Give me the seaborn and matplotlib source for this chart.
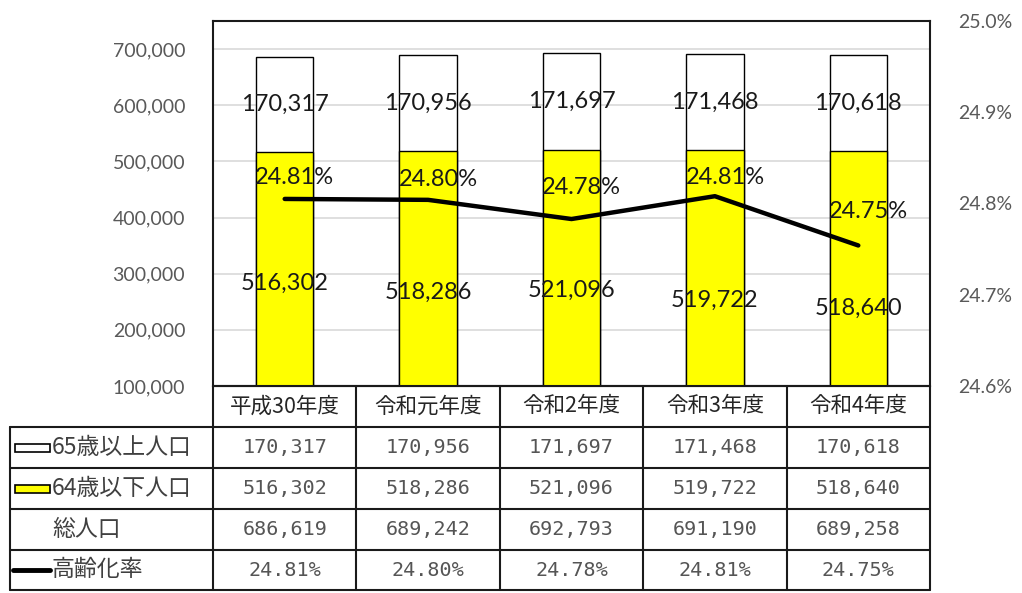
import numpy as np
import pandas as pd
import matplotlib
matplotlib.use("Agg")
import matplotlib.pyplot as plt
import seaborn as sns

# ---- data ----
years = ["平成30年度", "令和元年度", "令和2年度", "令和3年度", "令和4年度"]
over65 = [170317, 170956, 171697, 171468, 170618]
under64 = [516302, 518286, 521096, 519722, 518640]
total = [686619, 689242, 692793, 691190, 689258]
rate = [24.805, 24.804, 24.783, 24.808, 24.754]          # %, plotted line
rate_labels = ["24.81%", "24.80%", "24.78%", "24.81%", "24.75%"]
row_names = ["65歳以上人口", "64歳以下人口", "総人口", "高齢化率"]
left_ticks = [100000, 200000, 300000, 400000, 500000, 600000, 700000]
right_ticks = [24.6, 24.7, 24.8, 24.9, 25.0]
# label positions (manually placed labels in original)
low_label_pos = [282000, 267000, 270000, 252000, 238000]
rate_label_pos = [24.828, 24.826, 24.817, 24.829, 24.791]

sns.set_theme(style="white")
plt.rcParams["font.family"] = ["Noto Sans CJK JP", "DejaVu Sans"]

W, H = 1022, 593
fig = plt.figure(figsize=(W / 100, H / 100), dpi=100)

L, R, T, B = 213, 930, 21, 386
ax = fig.add_axes([L / W, 1 - B / H, (R - L) / W, (B - T) / H])

df = pd.DataFrame({"year": years, "over65": over65, "under64": under64, "total": total})
sns.barplot(data=df, x="year", y="total", color="white", edgecolor="black",
            linewidth=1.0, width=0.4, saturation=1, ax=ax, zorder=2)
sns.barplot(data=df, x="year", y="under64", color="#FFFF00", edgecolor="black",
            linewidth=1.0, width=0.4, saturation=1, ax=ax, zorder=3)
ax.set_ylim(100000, 750000)
ax.set_xlim(-0.5, 4.5)
ax.set_yticks(left_ticks)
ax.set_yticklabels([f"{v:,}" for v in left_ticks], fontsize=14, color="#595959",
                   family=["Lato", "DejaVu Sans"])
ax.tick_params(axis="y", length=0, pad=20)
ax.set_xticks([])
ax.set_xlabel("")
ax.set_ylabel("")
ax.yaxis.grid(True, color="#d9d9d9", linewidth=1.2, zorder=0)
ax.set_axisbelow(True)
for s in ax.spines.values():
    s.set_color("#1a1a1a")
    s.set_linewidth(1.5)

lab_font = dict(fontsize=17, color="#1a1a1a", family=["Lato", "DejaVu Sans"],
                ha="center", va="center", zorder=6)
for i in range(len(years)):
    ax.text(i, under64[i] + over65[i] / 2, f"{over65[i]:,}", **lab_font)
    ax.text(i, low_label_pos[i], f"{under64[i]:,}", **lab_font)

ax2 = ax.twinx()
sns.lineplot(x=np.arange(len(years)), y=rate, color="black", linewidth=3.2, ax=ax2,
             zorder=5)
ax2.set_ylim(24.6, 25.0)
ax2.set_xlim(-0.5, 4.5)
ax2.set_yticks(right_ticks)
ax2.set_yticklabels([f"{v:.1f}%" for v in right_ticks], fontsize=14, color="#595959",
                    family=["Lato", "DejaVu Sans"])
ax2.tick_params(axis="y", length=0, pad=20)
ax2.set_ylabel("")
ax2.grid(False)
for s in ax2.spines.values():
    s.set_visible(False)
for i in range(len(years)):
    ax2.text(i + 0.07, rate_label_pos[i], rate_labels[i], **lab_font)

# ---- data table ----
tab = fig.add_axes([0, 0, 1, 1])
tab.set_xlim(0, W)
tab.set_ylim(H, 0)
tab.axis("off")
tab.patch.set_alpha(0)

rows_y = [386, 427, 468, 509, 550, 590]
cols_x = [213, 356.4, 499.8, 643.2, 786.6, 930]
left_x = 10
lc = "#1a1a1a"
lw = 1.5
# horizontal lines
tab.plot([L, R], [rows_y[0], rows_y[0]], color=lc, lw=lw)
for y in rows_y[1:]:
    tab.plot([left_x, R], [y, y], color=lc, lw=lw)
# vertical lines
for x in cols_x:
    tab.plot([x, x], [rows_y[0], rows_y[-1]], color=lc, lw=lw)
tab.plot([left_x, left_x], [rows_y[1], rows_y[-1]], color=lc, lw=lw)

# header
for j, name in enumerate(years):
    xc = (cols_x[j] + cols_x[j + 1]) / 2
    tab.text(xc, (rows_y[0] + rows_y[1]) / 2, name, fontsize=15.5, color="#262626",
             ha="center", va="center")

row_vals = [
    [f"{v:,}" for v in over65],
    [f"{v:,}" for v in under64],
    [f"{v:,}" for v in total],
    rate_labels,
]
for r, vals in enumerate(row_vals):
    yc = (rows_y[r + 1] + rows_y[r + 2]) / 2
    for j, v in enumerate(vals):
        xc = (cols_x[j] + cols_x[j + 1]) / 2
        tab.text(xc, yc, v, fontsize=14.5, color="#555555", ha="center", va="center",
                 family=["DejaVu Sans Mono"])
    tab.text(52, yc, row_names[r], fontsize=16.5, color="#404040", ha="left", va="center")

# legend keys
yk = (rows_y[1] + rows_y[2]) / 2
tab.add_patch(plt.Rectangle((15, yk - 4), 35, 8, facecolor="white", edgecolor="black", lw=1.2))
yk = (rows_y[2] + rows_y[3]) / 2
tab.add_patch(plt.Rectangle((15, yk - 4), 35, 8, facecolor="#FFFF00", edgecolor="black", lw=1.2))
yk = (rows_y[4] + rows_y[5]) / 2
tab.plot([13, 50], [yk, yk], color="black", lw=3.5)

fig.savefig("out.png", dpi=100, facecolor="white")
